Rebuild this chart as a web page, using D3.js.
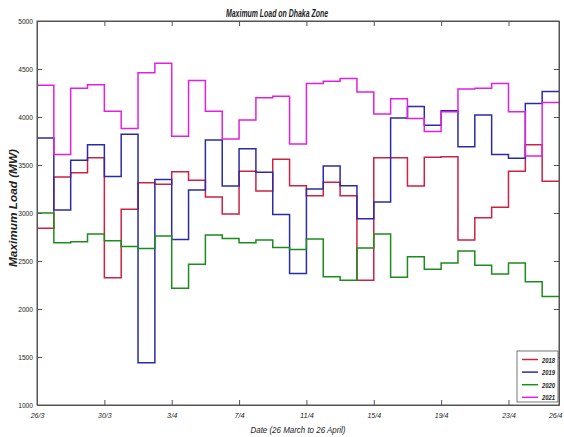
<!DOCTYPE html>
<html>
<head>
<meta charset="utf-8">
<script src="https://cdn.jsdelivr.net/npm/d3@7/dist/d3.min.js"></script>
<style>
  html, body { margin: 0; padding: 0; background: #fff; }
  svg text { font-family: "Liberation Sans Narrow", "Liberation Sans", Arial, sans-serif; fill: #222; }
</style>
</head>
<body>
<svg id="chart" width="564" height="437"></svg>
<script>
// Daily maximum load (MW), Dhaka zone, 26 March .. 25 April; each value holds for one day
const days = d3.range(31);
const xTickDays = [0, 4, 8, 12, 16, 20, 24, 28, 31];
const xTickLabels = ["26/3", "30/3", "3/4", "7/4", "11/4", "15/4", "19/4", "23/4", "26/4"];
const yTicks = [1000, 1500, 2000, 2500, 3000, 3500, 4000, 4500, 5000];

const load2018 = [2840, 3375, 3420, 3575, 2325, 3040, 3315, 3300, 3430, 3340, 3167, 2990, 3435, 3230, 3560, 3285,
                  3180, 3320, 3180, 2300, 3575, 3575, 3280, 3580, 3585, 2720, 2950, 3060, 3435, 3710, 3330];
const load2019 = [3780, 3030, 3550, 3710, 3380, 3820, 1440, 3350, 2725, 3240, 3760, 3280, 3670, 3425, 2985, 2370,
                  3250, 3490, 3285, 2940, 3115, 3990, 4110, 3915, 4065, 3690, 4020, 3610, 3570, 4140, 4265];
const load2020 = [3000, 2690, 2700, 2780, 2710, 2650, 2630, 2760, 2215, 2465, 2770, 2735, 2690, 2720, 2640, 2620,
                  2730, 2335, 2300, 2635, 2780, 2330, 2545, 2415, 2480, 2605, 2455, 2365, 2480, 2285, 2130];
const load2021 = [4330, 3610, 4300, 4335, 4060, 3880, 4460, 4560, 3800, 4380, 4060, 3770, 3970, 4200, 4215, 3720,
                  4350, 4372, 4400, 4260, 4030, 4190, 3985, 3850, 4055, 4292, 4300, 4350, 4055, 3595, 4150];

const seriesNames = ["2018", "2019", "2020", "2021"];
const seriesColors = ["#cc2244", "#2b2ba6", "#1c8c1c", "#e022e0"];
const seriesValues = [load2018, load2019, load2020, load2021];

const svg = d3.select("#chart");
const plotLeft = 37, plotRight = 559, plotTop = 21, plotBottom = 405;

const x = d3.scaleLinear().domain([0, 31]).range([plotLeft, plotRight]);
const y = d3.scaleLinear().domain([1000, 5000]).range([plotBottom, plotTop]);

// condensed text: squeeze glyphs to a target width per character
function squeeze(sel, perChar) {
  sel.each(function () {
    const t = d3.select(this);
    t.attr("textLength", t.text().length * perChar).attr("lengthAdjust", "spacingAndGlyphs");
  });
}

// stair lines
const stairs = d3.line()
  .x(d => x(d[0]))
  .y(d => y(d[1]))
  .curve(d3.curveStepAfter);

svg.append("clipPath").attr("id", "plotclip")
  .append("rect").attr("x", plotLeft).attr("y", plotTop)
  .attr("width", plotRight - plotLeft).attr("height", plotBottom - plotTop);

const plot = svg.append("g").attr("clip-path", "url(#plotclip)");
seriesValues.forEach((vals, k) => {
  const pts = days.map(i => [i, vals[i]]);
  pts.push([days.length, vals[vals.length - 1]]);
  plot.append("path")
    .attr("d", stairs(pts))
    .attr("fill", "none")
    .attr("stroke", seriesColors[k])
    .attr("stroke-width", 1.5);
});

// axes: ticks pointing inward on all four sides
const tickFont = "8px";
const xb = d3.axisBottom(x).tickValues(xTickDays).tickSizeInner(-5).tickSizeOuter(0)
  .tickFormat((d, i) => xTickLabels[i]).tickPadding(7);
const gx = svg.append("g").attr("transform", `translate(0,${plotBottom})`).call(xb);
gx.selectAll("text").style("font-size", tickFont).attr("font-style", "italic").call(squeeze, 3.4);
// last date label sits at the right edge of the page
gx.selectAll(".tick").filter(d => d === 31).select("text").attr("text-anchor", "end").attr("x", 3);

const xt = d3.axisTop(x).tickValues(xTickDays).tickSizeInner(-5).tickSizeOuter(0).tickFormat("");
svg.append("g").attr("transform", `translate(0,${plotTop})`).call(xt);

const yl = d3.axisLeft(y).tickValues(yTicks).tickSizeInner(-5).tickSizeOuter(0).tickPadding(4)
  .tickFormat(d3.format("d"));
const gy = svg.append("g").attr("transform", `translate(${plotLeft},0)`).call(yl);
gy.selectAll("text").style("font-size", tickFont).call(squeeze, 3.7);

const yr = d3.axisRight(y).tickValues(yTicks).tickSizeInner(-5).tickSizeOuter(0).tickFormat("");
svg.append("g").attr("transform", `translate(${plotRight},0)`).call(yr);

svg.selectAll(".domain").attr("stroke", "#555");
svg.selectAll(".tick line").attr("stroke", "#555");

// frame border
svg.append("rect")
  .attr("x", plotLeft).attr("y", plotTop)
  .attr("width", plotRight - plotLeft).attr("height", plotBottom - plotTop)
  .attr("fill", "none").attr("stroke", "#555").attr("stroke-width", 1);

// titles
svg.append("text")
  .attr("x", 277).attr("y", 17)
  .attr("text-anchor", "middle")
  .attr("textLength", 102).attr("lengthAdjust", "spacingAndGlyphs")
  .style("font-size", "10.5px").style("font-style", "italic").style("font-weight", "bold")
  .text("Maximum Load on Dhaka Zone");

svg.append("text")
  .attr("x", (plotLeft + plotRight) / 2).attr("y", 433)
  .attr("text-anchor", "middle")
  .attr("textLength", 95).attr("lengthAdjust", "spacingAndGlyphs")
  .style("font-size", "9.5px").style("font-style", "italic")
  .text("Date (26 March to 26 April)");

svg.append("text")
  .attr("transform", `translate(17,208) rotate(-90)`)
  .attr("text-anchor", "middle")
  .attr("textLength", 118).attr("lengthAdjust", "spacingAndGlyphs")
  .style("font-size", "10px").style("font-style", "italic").style("font-weight", "bold")
  .text("Maximum Load (MW)");

// legend
const lg = svg.append("g").attr("transform", "translate(517,351)");
lg.append("rect").attr("width", 41).attr("height", 51)
  .attr("fill", "#fff").attr("stroke", "#555").attr("stroke-width", 0.8);
seriesNames.forEach((name, k) => {
  const ry = 8.5 + k * 12.6;
  lg.append("line").attr("x1", 5).attr("x2", 21).attr("y1", ry).attr("y2", ry)
    .attr("stroke", seriesColors[k]).attr("stroke-width", 1.5);
  lg.append("text").attr("x", 25).attr("y", ry + 3)
    .attr("textLength", 13).attr("lengthAdjust", "spacingAndGlyphs")
    .style("font-size", "7.5px").style("font-style", "italic").style("font-weight", "bold")
    .text(name);
});
</script>
</body>
</html>
